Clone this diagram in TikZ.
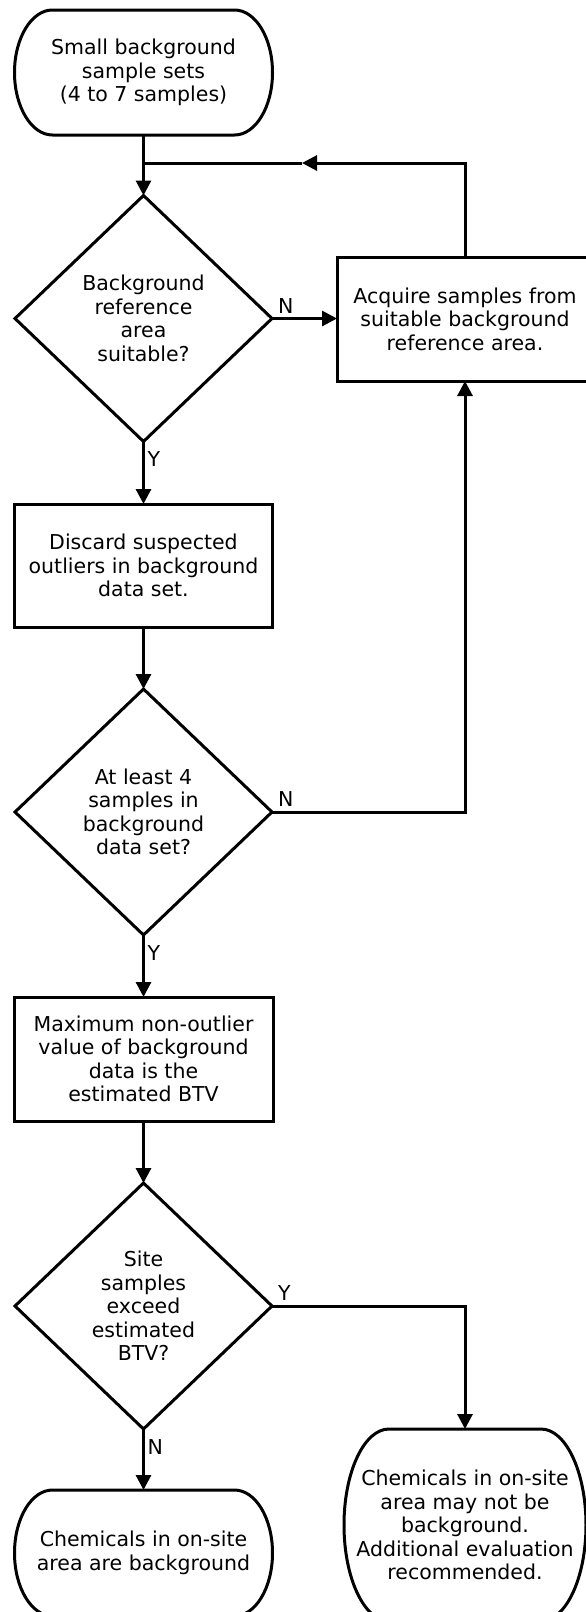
\documentclass[tikz,border=0pt]{standalone}
\usepackage{fontspec}
\setmainfont{DejaVu Sans}
\usetikzlibrary{arrows.meta,shapes.geometric}
\begin{document}
\begin{tikzpicture}[x=1pt,y=-1pt,
  every node/.style={font=\fontsize{20.5pt}{23.5pt}\selectfont, text=black, outer sep=0pt},
  conn/.style={line width=3pt, -{Triangle[length=15pt,width=15pt]}},
  plain/.style={line width=3pt},
  box/.style={draw, line width=3pt, rectangle, inner sep=0pt, align=center},
  decision/.style={draw, line width=3pt, diamond, inner sep=0pt, minimum width=257pt, minimum height=246pt, align=center},
  termnode/.style={rectangle, inner sep=0pt, align=center},
  termline/.style={line width=3pt},
  lbl/.style={inner sep=0pt}
]
\useasboundingbox (0,0) rectangle (586,1612);
\clip (0,0) rectangle (586,1612);
\fill[white] (0,0) rectangle (586,1612);

% nodes
\node[termnode, minimum width=258pt, minimum height=125pt] (t1) at (143.5,72.5) {Small background\\sample sets\\(4 to 7 samples)};
\draw[termline] ([xshift=38pt]t1.north west) -- ([xshift=-38pt]t1.north east)
  arc[start angle=90,end angle=-90,x radius=38pt,y radius=62.5pt]
  -- ([xshift=38pt]t1.south west)
  arc[start angle=270,end angle=90,x radius=38pt,y radius=62.5pt] -- cycle;

\node[decision] (d1) at (143.5,318.5) {Background\\reference\\area\\suitable?};
\node[box, minimum width=256pt, minimum height=124pt] (a) at (465,319) {Acquire samples from\\suitable background\\reference area.};
\node[box, minimum width=258pt, minimum height=123pt] (b1) at (143.5,565.5) {Discard suspected\\outliers in background\\data set.};
\node[decision] (d2) at (143.5,812) {At least 4\\samples in\\background\\data set?};
\node[box, minimum width=259pt, minimum height=124pt] (b2) at (143.5,1059) {Maximum non-outlier\\value of background\\data is the\\estimated BTV};
\node[decision] (d3) at (143.5,1306) {Site\\samples\\exceed\\estimated\\BTV?};

\node[termnode, minimum width=258pt, minimum height=126pt] (tl) at (143.5,1553) {Chemicals in on-site\\area are background};
\draw[termline] ([xshift=38pt]tl.north west) -- ([xshift=-38pt]tl.north east)
  arc[start angle=90,end angle=-90,x radius=38pt,y radius=63pt]
  -- ([xshift=38pt]tl.south west)
  arc[start angle=270,end angle=90,x radius=38pt,y radius=63pt] -- cycle;

\node[termnode, minimum width=242pt, minimum height=192pt] (tr) at (465,1525) {Chemicals in on-site\\area may not be\\background.\\Additional evaluation\\recommended.};
\draw[termline] ([xshift=45pt]tr.north west) -- ([xshift=-45pt]tr.north east)
  arc[start angle=90,end angle=-90,x radius=45pt,y radius=96pt]
  -- ([xshift=45pt]tr.south west)
  arc[start angle=270,end angle=90,x radius=45pt,y radius=96pt] -- cycle;

% connectors
\coordinate (j) at (143.5,163);
\coordinate (m) at (302,163);
\draw[conn] (t1.south) -- (d1.north);
\draw[conn] (d1.east) -- (d1.east -| a.west);
\draw[conn] (a.north) |- (m);
\draw[plain] (m) -- (j);
\draw[conn] (d1.south) -- (b1.north);
\draw[conn] (b1.south) -- (d2.north);
\draw[conn] (d2.east) -| (a.south);
\draw[conn] (d2.south) -- (b2.north);
\draw[conn] (b2.south) -- (d3.north);
\draw[conn] (d3.east) -| (tr.north);
\draw[conn] (d3.south) -- (tl.north);

% labels
\node[lbl, anchor=base west] (n1) at ([xshift=6pt,yshift=5.5pt]d1.east) {N};
\node[lbl, anchor=base west] (y1) at ([xshift=4pt,yshift=-25pt]d1.south) {Y};
\node[lbl, anchor=base west] (n2) at ([xshift=6pt,yshift=5.5pt]d2.east) {N};
\node[lbl, anchor=base west] (y2) at ([xshift=4pt,yshift=-25pt]d2.south) {Y};
\node[lbl, anchor=base west] (y3) at ([xshift=6pt,yshift=5.5pt]d3.east) {Y};
\node[lbl, anchor=base west] (n3) at ([xshift=4pt,yshift=-25pt]d3.south) {N};
\end{tikzpicture}
\end{document}
